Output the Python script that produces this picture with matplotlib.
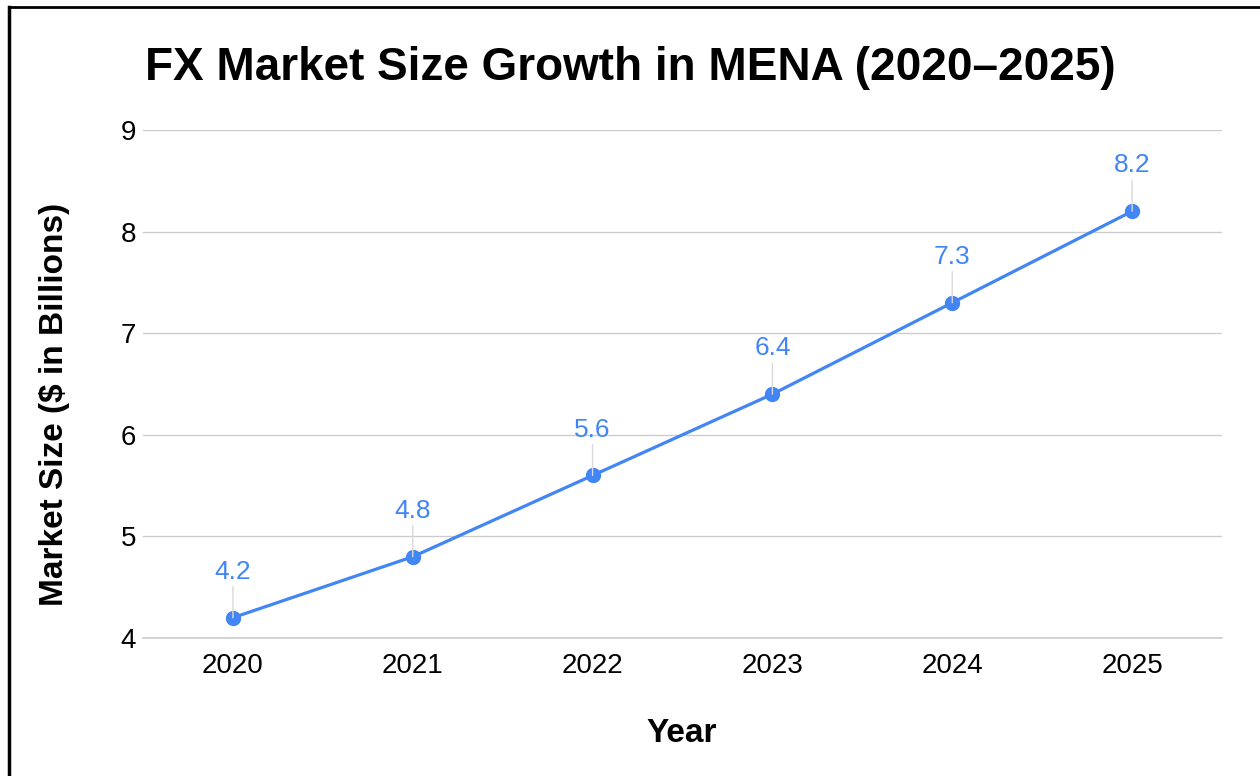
import matplotlib.pyplot as plt
from matplotlib.lines import Line2D

# データ
years = ['2020', '2021', '2022', '2023', '2024', '2025']
market_size = [4.2, 4.8, 5.6, 6.4, 7.3, 8.2]
y_ticks = [4, 5, 6, 7, 8, 9]

plt.rcParams['font.family'] = ['Liberation Sans', 'DejaVu Sans']

blue = '#4285F4'
fig = plt.figure(figsize=(12.6, 7.76), dpi=100)
ax = fig.add_axes([143 / 1260, 1 - 638 / 776, (1222 - 143) / 1260, (638 - 130) / 776])

x = list(range(len(years)))
ax.plot(x, market_size, color=blue, lw=2.3, marker='o', markersize=10, zorder=3)

# データラベルと引き出し線
for xi, v in zip(x, market_size):
    ax.annotate(f'{v}', xy=(xi, v), xytext=(0, 33), textcoords='offset points',
                ha='center', va='center', fontsize=19, color=blue,
                arrowprops=dict(arrowstyle='-', color='#d9d9d9', lw=1,
                                shrinkA=0, shrinkB=0))

ax.set_xlim(-0.5, len(years) - 0.5)
ax.set_ylim(4, 9)
ax.set_xticks(x)
ax.set_xticklabels(years)
ax.set_yticks(y_ticks)
ax.tick_params(axis='both', length=0, labelsize=20, colors='#000000')
ax.tick_params(axis='x', pad=11)
ax.tick_params(axis='y', pad=5)
ax.grid(axis='y', color='#cccccc', lw=1)
ax.axhline(4, color='#cccccc', lw=1.2, clip_on=False, zorder=0)
ax.set_axisbelow(True)
for s in ax.spines.values():
    s.set_visible(False)

ax.set_xlabel('Year', fontsize=24, fontweight='bold', va='center')
ax.set_ylabel('Market Size ($ in Billions)', fontsize=24, fontweight='bold', va='center')
ax.xaxis.set_label_coords(0.499, -(733 - 638) / 508)
ax.yaxis.set_label_coords((55 - 143) / 1079, 1 - (404 - 130) / 508)
fig.text(630 / 1260, 1 - 68 / 776, 'FX Market Size Growth in MENA (2020–2025)',
         ha='center', va='center', fontsize=33, fontweight='bold')

# 枠線
fig.add_artist(Line2D([9 / 1260, 9 / 1260], [0, 1 - 7 / 776], color='black', lw=2.5,
                      transform=fig.transFigure))
fig.add_artist(Line2D([9 / 1260, 1], [1 - 7 / 776, 1 - 7 / 776], color='black', lw=2,
                      transform=fig.transFigure))

fig.savefig('out.png', dpi=100)
